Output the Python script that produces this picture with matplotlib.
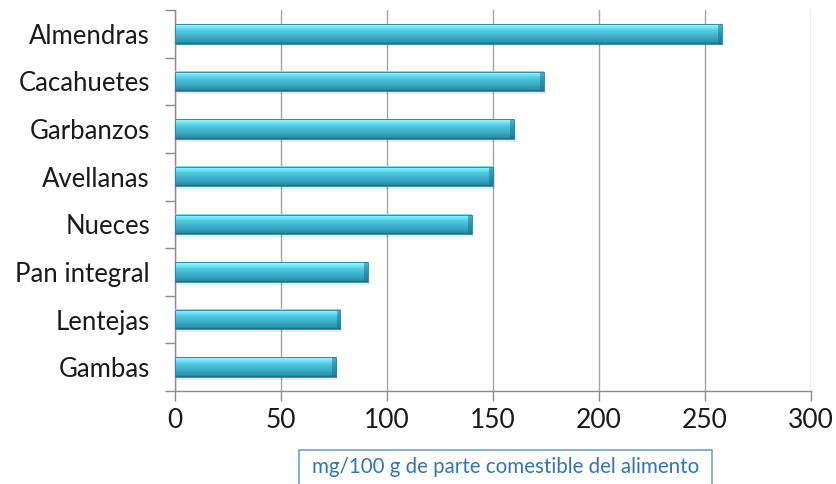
import numpy as np
import matplotlib
matplotlib.use("Agg")
import matplotlib.pyplot as plt
from matplotlib.colors import LinearSegmentedColormap
from matplotlib.patches import Rectangle

categories = ["Almendras", "Cacahuetes", "Garbanzos", "Avellanas", "Nueces",
              "Pan integral", "Lentejas", "Gambas"]
values = [258, 174, 160, 150, 140, 91, 78, 76]
xticks = [0, 50, 100, 150, 200, 250, 300]
xlabel = "mg/100 g de parte comestible del alimento"

plt.rcParams['font.family'] = ['Lato', 'DejaVu Sans']

fig = plt.figure(figsize=(8.36, 4.84), dpi=100)
ax = fig.add_axes([175/836, 93/484, (811-175)/836, (391-10)/484])

n = len(categories)
ypos = np.arange(n)[::-1]  # Almendras on top
h = 0.41

cmap = LinearSegmentedColormap.from_list("cyl", [
    (0.0, "#1f6a7e"),
    (0.08, "#2e90aa"),
    (0.35, "#3dadc8"),
    (0.65, "#50c8e0"),
    (0.85, "#72ebfc"),
    (0.95, "#92f6ff"),
    (1.0, "#64d4ea"),
])
grad = np.linspace(0, 1, 64).reshape(-1, 1)

for y, v in zip(ypos, values):
    ax.add_patch(Rectangle((0.8, y - h/2 - 0.06), v, h, facecolor="#000000",
                           alpha=0.08, edgecolor="none", zorder=2))
    ax.imshow(grad, extent=(0, v, y - h/2, y + h/2), origin="lower",
              cmap=cmap, aspect="auto", zorder=3, interpolation="bilinear")
    ax.add_patch(Rectangle((v - 1.8, y - h/2), 1.8, h, facecolor="#1f6a80",
                           alpha=0.5, edgecolor="none", zorder=4))
    ax.add_patch(Rectangle((0, y - h/2), v, h, facecolor="none",
                           edgecolor="#2a7f96", linewidth=0.6, zorder=5))

ax.set_xlim(0, 300)
ax.set_ylim(-0.5, n - 0.5)
ax.set_xticks(xticks)
ax.set_xticklabels([str(t) for t in xticks], fontsize=19, color="#1a1a1a")
ax.set_yticks(ypos)
ax.set_yticklabels(categories, fontsize=18.5, color="#1a1a1a")
ax.set_yticks(np.arange(-0.5, n, 1.0), minor=True)
ax.tick_params(axis="y", which="major", length=0, pad=18)
ax.tick_params(axis="y", which="minor", length=7, color="#8c8c8c", width=1)
ax.tick_params(axis="x", length=7, color="#8c8c8c", width=1, pad=5)

ax.grid(axis="x", color="#a6a6a6", linewidth=1, zorder=0)
ax.set_axisbelow(True)
for s in ["top", "right"]:
    ax.spines[s].set_visible(False)
for s in ["left", "bottom"]:
    ax.spines[s].set_color("#8c8c8c")
    ax.spines[s].set_linewidth(1)

fig.text((299 + 712) / 2 / 836, 1 - 467/484, xlabel, ha="center", va="center",
         fontsize=14.8, color="#2e75b6")
fig.patches.append(Rectangle((299/836, -0.02), (712-299)/836, (1 - 450/484) + 0.02,
                             transform=fig.transFigure, facecolor="none",
                             edgecolor="#6fa0d8", linewidth=1.2))

fig.savefig("out.png", dpi=100)
